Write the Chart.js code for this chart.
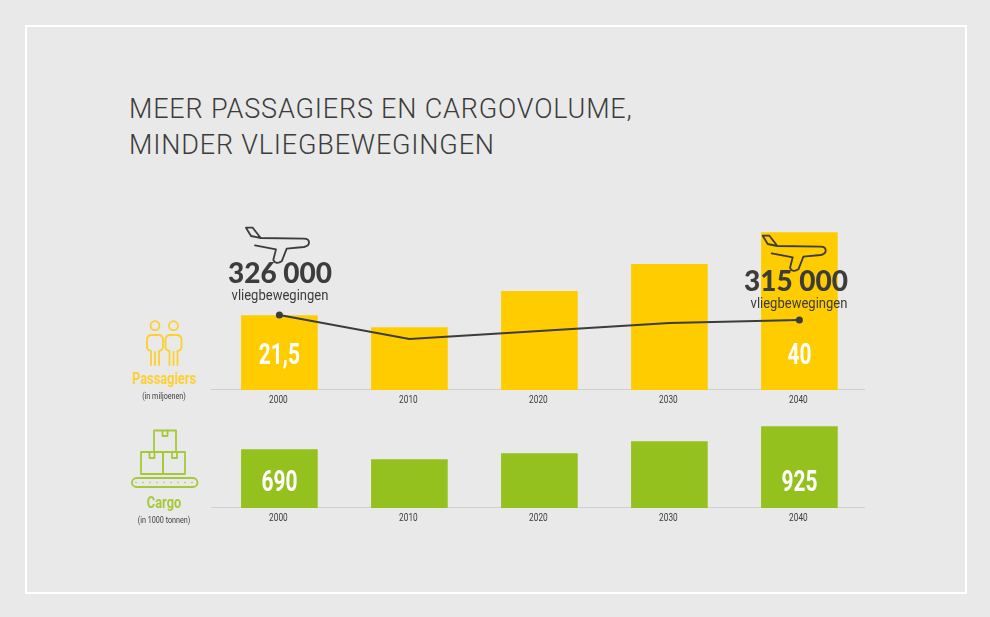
<!DOCTYPE html>
<html lang="nl">
<head>
<meta charset="utf-8">
<title>Meer passagiers en cargovolume</title>
<script src="https://cdn.jsdelivr.net/npm/chart.js@4"></script>
<style>
  html, body { margin: 0; padding: 0; }
  body { width: 990px; height: 617px; background: #e9e9e9; position: relative; overflow: hidden; color: #3c3c3b; font-family: Roboto, sans-serif; }
  .frame { position: absolute; left: 25px; top: 25px; width: 938px; height: 565px; border: 2px solid #fff; }
  .title { position: absolute; left: 129px; top: 91px; font-family: Roboto, sans-serif; font-weight: 300; font-size: 27px; line-height: 36px; letter-spacing: 0.82px; white-space: nowrap; }
  .chart-box { position: absolute; left: 204px; width: 670px; }
  canvas { display: block; }
  .txt { position: absolute; white-space: nowrap; transform: translate(-50%, -50%) scaleX(var(--sx, 1)); }
  .big { font-family: Lato, sans-serif; font-weight: 900; font-size: 28px; }
  .sub { font-size: 15.5px; --sx: 0.84; }
  .cat { font-weight: 700; font-size: 16px; --sx: 0.8; }
  .note { font-size: 9px; --sx: 0.8; }
  svg.icons { position: absolute; left: 0; top: 0; pointer-events: none; }
</style>
</head>
<body>
<div class="frame"></div>
<div class="title">MEER PASSAGIERS EN CARGOVOLUME,<br>MINDER VLIEGBEWEGINGEN</div>

<div class="chart-box" style="top:225px;height:193px"><canvas id="passengerChart"></canvas></div>
<div class="chart-box" style="top:420px;height:116px"><canvas id="cargoChart"></canvas></div>

<svg class="icons" width="990" height="617" fill="none" stroke-linejoin="round" stroke-linecap="round">
  <defs>
    <path id="plane" d="M255 245.300 L276 249.300 L273.300 260 Q276 265 281.700 261.300 L286.700 248.700 L304 247 Q309 246 309 242.500 Q309 238.700 304 238.700 L260.700 238 L252.700 227.700 L246 227.700 L251 236 L260.700 238"/>
  </defs>
  <use href="#plane" stroke="#3c3c3b" stroke-width="1.8"/>
  <use href="#plane" x="516.7" y="8" stroke="#3c3c3b" stroke-width="1.8"/>

  <!-- passagiers -->
  <g stroke="#fcd02f" stroke-width="1.8">
    <circle cx="155" cy="325.700" r="4.500"/>
    <circle cx="173.500" cy="325.700" r="4.500"/>
    <path id="person" d="M151 365 L151 351 Q147 350 147 347 L147 340 Q147 335 152 335 L158 335 Q163 335 163 340 L163 347 Q163 350 159 351 L159 365 M155 352 V365"/>
    <use href="#person" x="18.500"/>
  </g>

  <!-- cargo -->
  <g stroke="#a6c93a" stroke-width="1.8">
    <rect x="154" y="430.500" width="22" height="21.500"/>
    <rect x="141" y="452" width="22" height="22"/>
    <rect x="163" y="452" width="22" height="22"/>
    <path d="M162.500 430.500 V436 H167.500 V430.500 M149.500 452 V458 H154.500 V452 M172 452 V458 H177 V452"/>
    <rect x="132" y="478" width="65.500" height="9" rx="4.500"/>
    <line x1="136" y1="482.500" x2="194" y2="482.500" stroke-width="1.600" stroke-dasharray="0 7"/>
  </g>
</svg>

<div class="txt big" style="left:280px;top:272px">326 000</div>
<div class="txt sub" style="left:280px;top:295px">vliegbewegingen</div>
<div class="txt big" style="left:796px;top:280px">315 000</div>
<div class="txt sub" style="left:799px;top:303px">vliegbewegingen</div>

<div class="txt cat" style="left:164px;top:378px;color:#fcd02f">Passagiers</div>
<div class="txt note" style="left:164px;top:396px">(in miljoenen)</div>
<div class="txt cat" style="left:164px;top:502px;color:#a6c93a">Cargo</div>
<div class="txt note" style="left:164px;top:520px">(in 1000 tonnen)</div>

<script>
// --- data ---
const years = ['2000', '2010', '2020', '2030', '2040'];
const passengers = [21.5, 18.8, 26.9, 32.9, 40];
const passengerLabels = ['21,5', '', '', '', '40'];
const flights = [326000, 273200, 290800, 308400, 315000];
const cargo = [690, 587, 649, 771, 925];
const cargoLabels = ['690', '', '', '', '925'];

// canvas has no condensed font here, so squeeze the text horizontally
function narrowText(ctx, text, x, y, squeeze) {
  ctx.save();
  ctx.translate(x, y);
  ctx.scale(squeeze, 1);
  ctx.fillText(text, 0, 0);
  ctx.restore();
}

// grey baseline (a little wider than the chart area) and squeezed year labels
const axisDecor = {
  id: 'axisDecor',
  beforeDatasetsDraw(chart) {
    const { ctx, chartArea, scales } = chart;
    ctx.save();
    ctx.strokeStyle = '#cfcfcf';
    ctx.lineWidth = 1;
    ctx.beginPath();
    ctx.moveTo(7, chartArea.bottom - 0.5);
    ctx.lineTo(661, chartArea.bottom - 0.5);
    ctx.stroke();
    ctx.fillStyle = '#3c3c3b';
    ctx.font = '11.5px Roboto, sans-serif';
    ctx.textAlign = 'center';
    ctx.textBaseline = 'middle';
    years.forEach((year, i) => {
      narrowText(ctx, year, scales.x.getPixelForValue(i) - 1, chartArea.bottom + 10, 0.72);
    });
    ctx.restore();
  }
};

// white number inside the bars
function valueLabels(texts, lift) {
  return {
    id: 'valueLabels',
    afterDatasetsDraw(chart) {
      const { ctx, chartArea } = chart;
      const meta = chart.getDatasetMeta(chart.data.datasets.findIndex(d => d.type !== 'line'));
      ctx.save();
      ctx.fillStyle = '#fff';
      ctx.font = '700 29px Roboto, sans-serif';
      ctx.textAlign = 'center';
      ctx.textBaseline = 'middle';
      meta.data.forEach((bar, i) => {
        if (texts[i]) narrowText(ctx, texts[i], bar.x, chartArea.bottom - lift, 0.72);
      });
      ctx.restore();
    }
  };
}

const xAxis = {
  grid: { display: false },
  border: { display: false },
  ticks: { display: false },
  afterFit: s => { s.height = 28; }
};

const layout = { autoPadding: false, padding: { left: 10.4, right: 9.6 } };

Chart.defaults.animation = false;
Chart.defaults.responsive = true;
Chart.defaults.maintainAspectRatio = false;

new Chart(document.getElementById('passengerChart'), {
  data: {
    labels: years,
    datasets: [
      { type: 'line', yAxisID: 'yFlights', data: flights, borderColor: '#3c3c3b', borderWidth: 2, tension: 0,
        pointRadius: [3.5, 0, 0, 0, 3.5], pointBackgroundColor: '#3c3c3b', pointBorderWidth: 0, order: 0 },
      { type: 'bar', yAxisID: 'y', data: passengers, backgroundColor: '#ffcc00', barThickness: 76, order: 1 }
    ]
  },
  options: {
    layout,
    plugins: { legend: { display: false }, tooltip: { enabled: false } },
    scales: {
      x: xAxis,
      y: { display: false, min: 4.9, max: 41.68 },
      yFlights: { display: false, min: 161000, max: 524000 }
    }
  },
  plugins: [axisDecor, valueLabels(passengerLabels, 33)]
});

new Chart(document.getElementById('cargoChart'), {
  type: 'bar',
  data: {
    labels: years,
    datasets: [{ data: cargo, backgroundColor: '#95c11f', barThickness: 76 }]
  },
  options: {
    layout,
    plugins: { legend: { display: false }, tooltip: { enabled: false } },
    scales: {
      x: xAxis,
      y: { display: false, min: 92, max: 991 }
    }
  },
  plugins: [axisDecor, valueLabels(cargoLabels, 24)]
});
</script>
</body>
</html>
